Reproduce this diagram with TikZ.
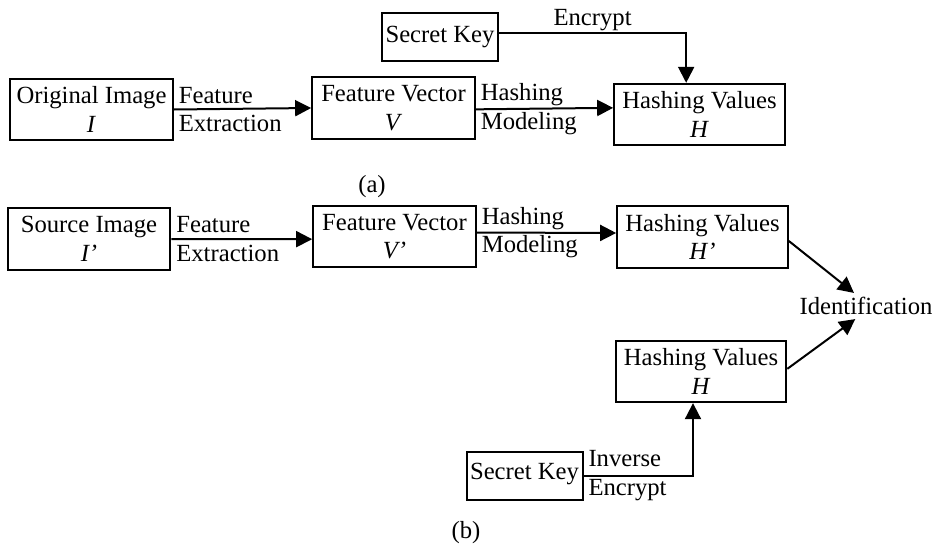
\documentclass[tikz,border=0pt]{standalone}
\usepackage{fontspec}
\setmainfont{Liberation Serif}
\usetikzlibrary{arrows.meta,positioning,calc}

\begin{document}
\begin{tikzpicture}[x=0.75pt, y=-0.75pt,
    box/.style={draw, line width=1.5pt, minimum width=122pt, minimum height=46pt, align=center, inner sep=1pt, font=\fontsize{18.5}{21.5}\selectfont},
    hbox/.style={box, minimum width=128pt},
    kbox/.style={box, minimum width=87pt, minimum height=36pt},
    lbl/.style={font=\fontsize{18.5}{21.5}\selectfont, align=left, inner sep=3pt},
    edge/.style={-{Triangle[length=12pt,width=12pt]}, line width=1.5pt}
]
\useasboundingbox (0,0) rectangle (932,554);

% (a) enrolment
\node[kbox] (keyA) at (440,37) {\raisebox{4pt}{Secret Key}};
\node[box] (orig) at (91.5,109.5) {Original Image\\\textit{I}};
\node[box] (vecA) at (393.5,108) {Feature Vector\\\textit{V}};
\node[hbox] (hashA) at (699.5,114.5) {Hashing Values\\\textit{H}};
\node[lbl] (capA) at (372,187) {(a)};

\draw[edge] (orig.east) -- node[lbl, pos=0, anchor=west] {Feature\\Extraction} (vecA.west);
\draw[edge] ([yshift=-1pt]vecA.east) -- node[lbl, pos=0, anchor=west] {Hashing\\Modeling} ([yshift=5pt]hashA.west);
\draw[edge] ([yshift=3pt]keyA.east) -| node[lbl, pos=0.25, above, inner sep=1pt] {Encrypt} ([xshift=-10pt]hashA.north);

% (b) identification
\node[box] (src) at (89,239) {Source Image\\\textit{I’}};
\node[box] (vecB) at (394.5,236.5) {Feature Vector\\\textit{V’}};
\node[hbox] (hashP) at (702.5,237) {Hashing Values\\\textit{H’}};
\node[hbox] (hashB) at (701,371.5) {Hashing Values\\\textit{H}};
\node[kbox] (keyB) at (524.5,475.5) {\raisebox{6pt}{Secret Key}};
\node[lbl] (ident) at (866,306) {Identification};
\node[lbl] (capB) at (466,533) {(b)};

\draw[edge] (src.east) -- node[lbl, pos=0, anchor=west] {Feature\\Extraction} ([yshift=-2pt]vecB.west);
\draw[edge] ([yshift=3pt]vecB.east) -- node[lbl, pos=0, anchor=west] {Hashing\\Modeling} ([yshift=3pt]hashP.west);
\draw[edge] ([yshift=-3pt]hashP.east) -- ([xshift=-9pt]ident.north);
\draw[edge] ([yshift=2pt]hashB.east) -- ([xshift=-8pt]ident.south);
\draw[edge] (keyB.east) -| node[lbl, pos=0, anchor=west] {Inverse\\Encrypt} ([xshift=-6pt]hashB.south);
\end{tikzpicture}
\end{document}
